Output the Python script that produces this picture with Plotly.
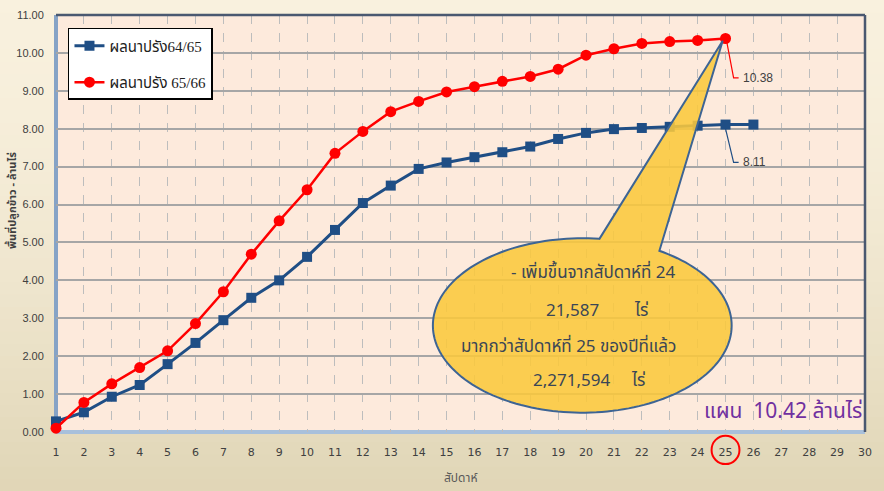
import numpy as np
import plotly.graph_objects as go

weeks_6465 = list(range(1, 27))
area_6465 = [0.28, 0.52, 0.93, 1.24, 1.79, 2.35, 2.95, 3.54, 4.00, 4.62,
             5.33, 6.04, 6.50, 6.94, 7.11, 7.25, 7.38, 7.53, 7.73, 7.89,
             7.99, 8.02, 8.05, 8.08, 8.11, 8.11]
weeks_6566 = list(range(1, 26))
area_6566 = [0.10, 0.78, 1.27, 1.70, 2.14, 2.86, 3.70, 4.69, 5.57, 6.39,
             7.35, 7.93, 8.45, 8.72, 8.97, 9.11, 9.25, 9.38, 9.57, 9.94,
             10.11, 10.25, 10.30, 10.33, 10.38]
x_ticks = list(range(1, 31))
y_ticks = [0, 1, 2, 3, 4, 5, 6, 7, 8, 9, 10, 11]
name_6465 = "ผลนาปรัง64/65"
name_6566 = "ผลนาปรัง 65/66"
label_6566 = "10.38"
label_6465 = "8.11"
callout_lines = ["- เพิ่มขึ้นจากสัปดาห์ที่ 24", "21,587", "ไร่",
                 "มากกว่าสัปดาห์ที่ 25 ของปีที่แล้ว", "2,271,594", "ไร่"]
plan_text = "แผน  10.42 ล้านไร่"
x_title = "สัปดาห์"
y_title = "<b>พื้นที่ปลูกข้าว - ล้านไร่</b>"

BLUE = "#1F4E85"
RED = "#FF0000"
THAI = "Noto Sans Thai, Tahoma, Noto Sans, DejaVu Sans, sans-serif"

fig = go.Figure()
fig.add_trace(go.Scatter(x=weeks_6465, y=area_6465, name=name_6465, mode="lines+markers",
                         line=dict(color=BLUE, width=3),
                         marker=dict(symbol="square", size=10, color=BLUE),
                         legendgroup="a", cliponaxis=False))
fig.add_trace(go.Scatter(x=weeks_6566, y=area_6566, name=name_6566, mode="lines+markers",
                         line=dict(color=RED, width=2.5),
                         marker=dict(symbol="circle", size=11, color=RED),
                         legendgroup="b", cliponaxis=False))

shapes = []
# background gradient bands (paper)
top_c = np.array([0xF9, 0xF1, 0xDE])
bot_c = np.array([0xE1, 0xD6, 0xB7])
y0p, y1p = -59 / 417, 1 + 15 / 417
nb = 40
for i in range(nb):
    f = i / (nb - 1)
    c = top_c + (bot_c - top_c) * (f ** 1.6)
    ya = y1p - (y1p - y0p) * i / nb
    yb = y1p - (y1p - y0p) * (i + 1) / nb
    shapes.append(dict(type="rect", xref="paper", yref="paper", x0=-0.08, x1=1.05,
                       y0=yb - 0.002, y1=ya, line=dict(width=0),
                       fillcolor="rgb(%d,%d,%d)" % tuple(c.astype(int)), layer="below"))
shapes.append(dict(type="rect", xref="paper", yref="paper", x0=0, x1=1, y0=0, y1=1,
                   line=dict(width=0), fillcolor="#FDEADC", layer="below"))

# callout ellipse + pointer
cx, cy, rx, ry = 19.865, 2.81, 5.355, 2.30
tip = (24.9, 10.32)
tl = np.degrees(np.arccos((20.48 - cx) / rx))
tr = np.degrees(np.arccos((22.63 - cx) / rx))
ts = np.radians(np.linspace(tl, 360 + tr, 160))
px = cx + rx * np.cos(ts)
py = cy + ry * np.sin(ts)
path = "M %f,%f " % (px[0], py[0]) + " ".join("L %f,%f" % (a, b) for a, b in zip(px[1:], py[1:]))
path += " L %f,%f Z" % tip
shapes.append(dict(type="path", xref="x", yref="y", path=path,
                   fillcolor="rgba(251,200,60,0.88)", line=dict(color="#3D6494", width=2),
                   layer="above"))

# leader lines for labels
shapes.append(dict(type="path", xref="x", yref="y",
                   path="M 25.04,10.31 L 25.29,9.34 L 25.47,9.34",
                   line=dict(color=RED, width=1.2)))
shapes.append(dict(type="path", xref="x", yref="y",
                   path="M 25.0,8.0 L 25.29,7.11 L 25.47,7.11",
                   line=dict(color=BLUE, width=1.2)))

# plot frame
shapes.append(dict(type="line", xref="paper", yref="paper", x0=0, x1=1, y0=1, y1=1,
                   line=dict(color="#4A5870", width=2.5)))
shapes.append(dict(type="line", xref="paper", yref="paper", x0=1, x1=1, y0=0, y1=1,
                   line=dict(color="#4A5870", width=2.5)))
shapes.append(dict(type="line", xref="paper", yref="paper", x0=0, x1=0, y0=0, y1=1,
                   line=dict(color="#86A3C6", width=4), layer="below"))
shapes.append(dict(type="line", xref="paper", yref="paper", x0=0, x1=1, y0=0, y1=0,
                   line=dict(color="#A8C0DB", width=4), layer="below"))

# red circle around tick 25
shapes.append(dict(type="circle", xref="x", yref="paper", x0=24.5, x1=25.5,
                   y0=-0.077, y1=-0.009, line=dict(color="#FF0000", width=2)))

txt_c = "#3A4656"
annotations = [
    dict(x=20.27, y=4.19, text=callout_lines[0]),
    dict(x=19.52, y=3.19, text=callout_lines[1]),
    dict(x=21.96, y=3.19, text=callout_lines[2]),
    dict(x=19.38, y=2.24, text=callout_lines[3]),
    dict(x=19.49, y=1.34, text=callout_lines[4]),
    dict(x=21.85, y=1.34, text=callout_lines[5]),
]
for a in annotations:
    a.update(xref="x", yref="y", showarrow=False,
             font=dict(family=THAI, size=17, color=txt_c))
annotations.append(dict(x=27.06, y=0.53, xref="x", yref="y", text=plan_text, showarrow=False,
                        font=dict(family=THAI, size=21, color="#7030A0")))
annotations.append(dict(x=25.55, y=9.34, xref="x", yref="y", text=label_6566, showarrow=False,
                        xanchor="left", font=dict(family="Liberation Sans, Arial", size=12, color="#404040")))
annotations.append(dict(x=25.55, y=7.11, xref="x", yref="y", text=label_6465, showarrow=False,
                        xanchor="left", font=dict(family="Liberation Sans, Arial", size=12, color="#404040")))
# axis titles as annotations for exact placement
annotations.append(dict(x=0.5, y=-0.11, xref="paper", yref="paper", text=x_title, showarrow=False,
                        yanchor="middle", font=dict(family=THAI, size=12, color="#595959")))
annotations.append(dict(x=-0.054, y=0.555, xref="paper", yref="paper", text=y_title, showarrow=False,
                        textangle=-90, xanchor="center", yanchor="middle",
                        font=dict(family=THAI, size=11, color="#404040")))

fig.update_layout(
    width=884, height=491,
    margin=dict(l=56, r=19, t=15, b=59),
    paper_bgcolor="#F4EAD0",
    plot_bgcolor="#FDEADC",
    shapes=shapes,
    annotations=annotations,
    showlegend=True,
    legend=dict(x=0.0148, y=0.969, xanchor="left", yanchor="top",
                bgcolor="white", bordercolor="black", borderwidth=1.5,
                font=dict(family="Liberation Serif, " + THAI, size=15, color="#222222"),
                traceorder="grouped", tracegroupgap=14, itemwidth=30),
    xaxis=dict(range=[1, 30], tickmode="array", tickvals=x_ticks, automargin=False,
               showgrid=True, gridcolor="#BDBDBD", griddash="dash", gridwidth=1,
               zeroline=False, showline=False, ticks="outside", ticklen=10,
               tickcolor="rgba(0,0,0,0)",
               tickfont=dict(family="DejaVu Sans, Noto Sans", size=11, color="#404040")),
    yaxis=dict(range=[0, 11], tickmode="array", tickvals=y_ticks, tickformat=".2f", automargin=False,
               showgrid=True, gridcolor="#A6A6A6", gridwidth=1.5,
               zeroline=False, showline=False, ticks="outside", ticklen=9,
               tickcolor="rgba(0,0,0,0)",
               tickfont=dict(family="Liberation Sans, Arial", size=11, color="#404040")),
)

fig.write_html("out.html", config={"displayModeBar": False},
               post_script="document.body.style.margin='0';")
